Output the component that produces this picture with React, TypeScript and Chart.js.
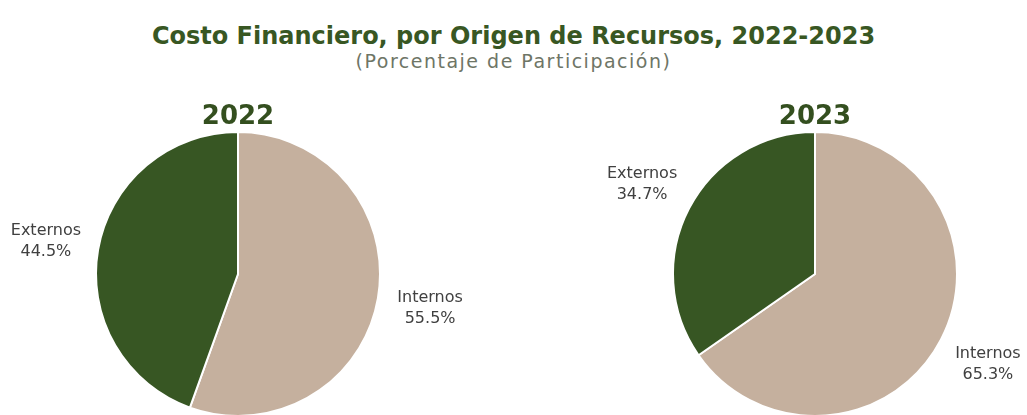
import React, { useEffect, useRef } from "react";
import { Chart, registerables } from "chart.js";

Chart.register(...registerables);

const categories = ["Internos", "Externos"];
const values2022 = [55.5, 44.5];
const values2023 = [65.3, 34.7];
const years = ["2022", "2023"];
const mainTitle = "Costo Financiero, por Origen de Recursos, 2022-2023";
const subTitle = "(Porcentaje de Participación)";

const COLORS = ["#c5b09e", "#375623"];
const FONT = "'DejaVu Sans', sans-serif";

type LabelOpts = { year: string; dist: number[] };

const labelPlugin = {
  id: "pieLabels",
  afterDraw(chart: any, _args: any, opts: LabelOpts) {
    const ctx = chart.ctx;
    const meta = chart.getDatasetMeta(0);
    const data = chart.data.datasets[0].data as number[];
    const labels = chart.data.labels as string[];
    if (!meta.data.length) return;
    const first = meta.data[0] as any;
    ctx.save();
    // year heading
    ctx.fillStyle = "#344f1f";
    ctx.font = `bold 26px ${FONT}`;
    ctx.textAlign = "center";
    ctx.textBaseline = "bottom";
    ctx.fillText(opts.year, first.x, first.y - first.outerRadius - 2);
    // slice labels
    ctx.font = `16px ${FONT}`;
    ctx.fillStyle = "#404040";
    ctx.textBaseline = "middle";
    meta.data.forEach((arc: any, i: number) => {
      const mid = (arc.startAngle + arc.endAngle) / 2;
      const d = arc.outerRadius + (opts.dist[i] ?? 50);
      const x = arc.x + Math.cos(mid) * d;
      const y = arc.y + Math.sin(mid) * d;
      ctx.fillText(labels[i], x, y - 10);
      ctx.fillText(data[i].toFixed(1) + "%", x, y + 11);
    });
    ctx.restore();
  },
};

function PieChart({ values, year, padL, padR, dist }: { values: number[]; year: string; padL: number; padR: number; dist: number[] }) {
  const ref = useRef<HTMLCanvasElement>(null);
  useEffect(() => {
    if (!ref.current) return;
    const chart = new Chart(ref.current, {
      type: "pie",
      data: {
        labels: categories,
        datasets: [
          {
            data: values,
            backgroundColor: COLORS,
            borderColor: "#ffffff",
            borderWidth: 2,
          },
        ],
      },
      options: {
        responsive: false,
        animation: false,
        layout: { padding: { top: 31, left: padL, right: padR, bottom: 0 } },
        plugins: {
          legend: { display: false },
          title: { display: false },
          tooltip: { enabled: false },
          pieLabels: { year, dist },
        } as any,
      },
      plugins: [labelPlugin as any],
    });
    return () => chart.destroy();
  }, []);
  return <canvas ref={ref} width={padL + padR + 286} height={317} style={{ display: "block" }} />;
}

export default function App() {
  return (
    <div
      style={{
        position: "fixed",
        left: 0,
        top: 0,
        width: 1027,
        height: 415,
        overflow: "hidden",
        background: "#ffffff",
        fontFamily: FONT,
      }}
    >
      <div
        style={{
          position: "absolute",
          top: 21,
          left: 0,
          width: 1027,
          textAlign: "center",
          fontSize: 24,
          fontWeight: "bold",
          color: "#385723",
          lineHeight: "30px",
          whiteSpace: "nowrap",
        }}
      >
        {mainTitle}
      </div>
      <div
        style={{
          position: "absolute",
          top: 49,
          left: 0,
          width: 1027,
          textAlign: "center",
          fontSize: 19,
          letterSpacing: 1.5,
          color: "#6e7566",
          lineHeight: "24px",
          whiteSpace: "nowrap",
        }}
      >
        {subTitle}
      </div>
      <div style={{ position: "absolute", left: 0, top: 100 }}>
        <PieChart values={values2022} year={years[0]} padL={95} padR={132} dist={[53, 53]} />
      </div>
      <div style={{ position: "absolute", left: 513, top: 100 }}>
        <PieChart values={values2023} year={years[1]} padL={159} padR={69} dist={[53, 53]} />
      </div>
    </div>
  );
}
